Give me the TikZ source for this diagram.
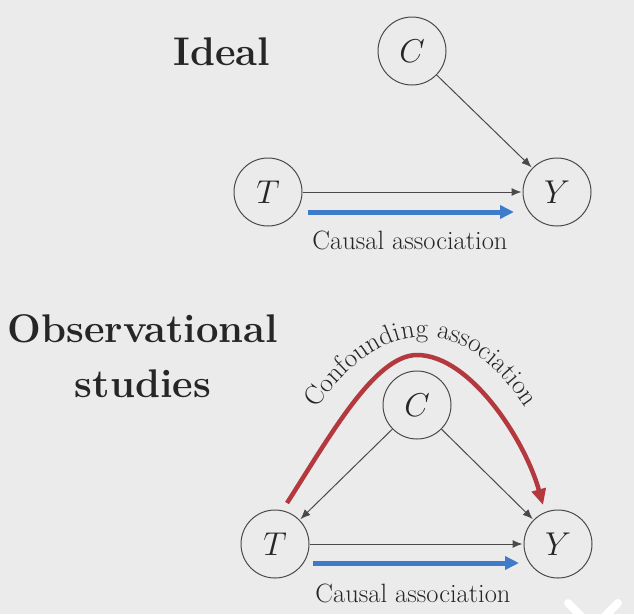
\RequirePackage{fix-cm}
\documentclass[tikz,border=0pt]{standalone}
\usepackage{fontspec}
\usetikzlibrary{arrows.meta,decorations.text}
\definecolor{bg}{HTML}{EBEBEB}
\definecolor{ink}{HTML}{262626}
\definecolor{edgec}{HTML}{4A4A4A}
\definecolor{cblue}{HTML}{3F7BCB}
\definecolor{cred}{HTML}{B3393F}
\begin{document}
\begin{tikzpicture}[x=1pt,y=-1pt,
  var/.style={circle,draw=edgec,line width=1pt,minimum size=68pt,inner sep=0pt,text=ink,font=\fontsize{33}{36}\selectfont},
  cause/.style={draw=edgec,line width=1pt,-{Latex[length=10pt,width=8pt]},shorten >=1pt},
  assoc/.style={draw=cblue,line width=5pt,-{Triangle[length=14pt,width=13pt]}},
  confound/.style={draw=cred,line width=4.5pt,-{Triangle[length=16pt,width=14pt]}},
  title/.style={anchor=base,text=ink,font=\fontsize{40}{44}\selectfont\bfseries},
  caption/.style={anchor=base,text=ink,font=\fontsize{26.5}{30}\selectfont}]
\fill[bg] (0,0) rectangle (634,614);
\useasboundingbox (0,0) rectangle (634,614);

% Ideal
\node[title] (tideal) at (222,65) {Ideal};
\node[var] (C1) at (412,51) {$C$};
\node[var] (T1) at (268,192) {$T$};
\node[var] (Y1) at (557,192) {$Y$};
\draw[cause] (C1) -- (Y1);
\draw[cause] (T1) -- (Y1);
\coordinate (b1s) at (308,212);
\coordinate (b1e) at (514,212);
\draw[assoc] (b1s) -- (b1e);
\node[caption] (cap1) at (410,249) {Causal association};

% Observational
\node[title] (tobs) at (143,342) {Observational};
\node[title] (tstud) at (143,397) {studies};
\node[var] (C2) at (417,405) {$C$};
\node[var] (T2) at (275,544) {$T$};
\node[var] (Y2) at (558,544) {$Y$};
\draw[cause] (C2) -- (T2);
\draw[cause] (C2) -- (Y2);
\draw[cause] (T2) -- (Y2);
\coordinate (b2s) at (313,563);
\coordinate (b2e) at (519,563);
\draw[assoc] (b2s) -- (b2e);
\node[caption] (cap2) at (413,602) {Causal association};

% confounding path
\coordinate (rs) at (287,503);
\coordinate (rp) at (417,355);
\coordinate (re) at (543,505);
\draw[confound] (rs) .. controls (330,436) and (375,355) .. (rp)
  .. controls (470,355) and (525,440) .. (re);
\path[decorate,decoration={text along path,text align={align=center},
  text={|\fontsize{27}{30}\selectfont\color{ink}|Confounding association}}]
  (278,475) .. controls (318,392) and (368,337) .. (424,337)
  .. controls (480,337) and (525,392) .. (562,475);

% overlay mark
\draw[white,line width=8pt,line cap=round] (568,603) -- (590,625);
\draw[white,line width=8pt,line cap=round] (618,603) -- (596,625);
\end{tikzpicture}
\end{document}
